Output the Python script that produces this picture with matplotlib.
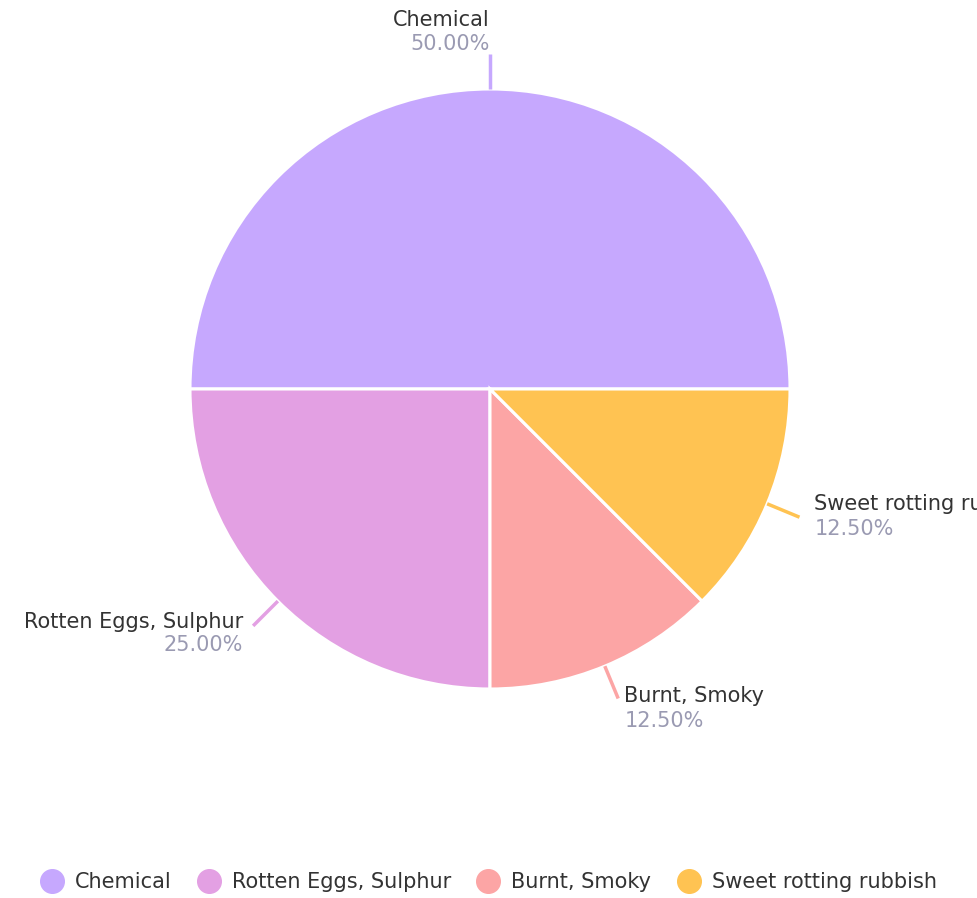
import numpy as np
import matplotlib
matplotlib.use('Agg')
import matplotlib.pyplot as plt
from matplotlib.lines import Line2D

labels = ['Chemical', 'Rotten Eggs, Sulphur', 'Burnt, Smoky', 'Sweet rotting rubbish']
values = [50.0, 25.0, 12.5, 12.5]
colors = ['#C6A8FE', '#E3A0E3', '#FCA5A5', '#FFC352']

plt.rcParams['font.family'] = ['DejaVu Sans']
text_color = '#333333'
pct_color = '#9A9AB2'

fig = plt.figure(figsize=(9.78, 8.98), dpi=100)
ax = fig.add_axes([0, 0, 1, 1])

cx, cy, r = 490, 509, 300
wedges, _ = ax.pie(values, colors=colors, startangle=0, counterclock=True,
                   center=(cx, cy), radius=r, frame=True,
                   wedgeprops=dict(edgecolor='white', linewidth=2.2))
ax.set_xlim(0, 978)
ax.set_ylim(0, 898)
ax.axis('off')

total = sum(values)
for w, lab, val, col in zip(wedges, labels, values, colors):
    th = np.deg2rad((w.theta1 + w.theta2) / 2)
    c, s = np.cos(th), np.sin(th)
    x0, y0 = cx + r * c, cy + r * s
    x1, y1 = cx + (r + 35) * c, cy + (r + 35) * s
    ax.plot([x0, x1], [y0, y1], color=col, lw=2.5, solid_capstyle='butt')
    pct = f'{val / total * 100:.2f}%'
    drop = max(0, -s - 0.4) * 20  # push lower labels down a bit
    if abs(c) < 0.2:
        ha, tx, ny, py = 'right', x1, y1 + 34, y1 + 10
    elif c > 0:
        ha, tx, ny, py = 'left', x1 + 16 * c, y1 + 13 - drop, y1 - 12 - drop
    else:
        ha, tx, ny, py = 'right', x1 - 10, y1 + 10 - drop, y1 - 13 - drop
    # text past the right edge is cut off, same as the original
    ax.text(tx, ny, lab, ha=ha, va='center', fontsize=15, color=text_color)
    ax.text(tx, py, pct, ha=ha, va='center', fontsize=15, color=pct_color)

handles = [Line2D([], [], marker='o', linestyle='none', markersize=17,
                  markerfacecolor=col, markeredgecolor=col) for col in colors]
fig.legend(handles, labels, loc='center', bbox_to_anchor=(0.5, 1 - 882 / 898),
           ncol=4, frameon=False, fontsize=15, handletextpad=0.6,
           columnspacing=1.3, labelcolor=text_color, handlelength=1.0)

fig.savefig('out.png', dpi=100)
